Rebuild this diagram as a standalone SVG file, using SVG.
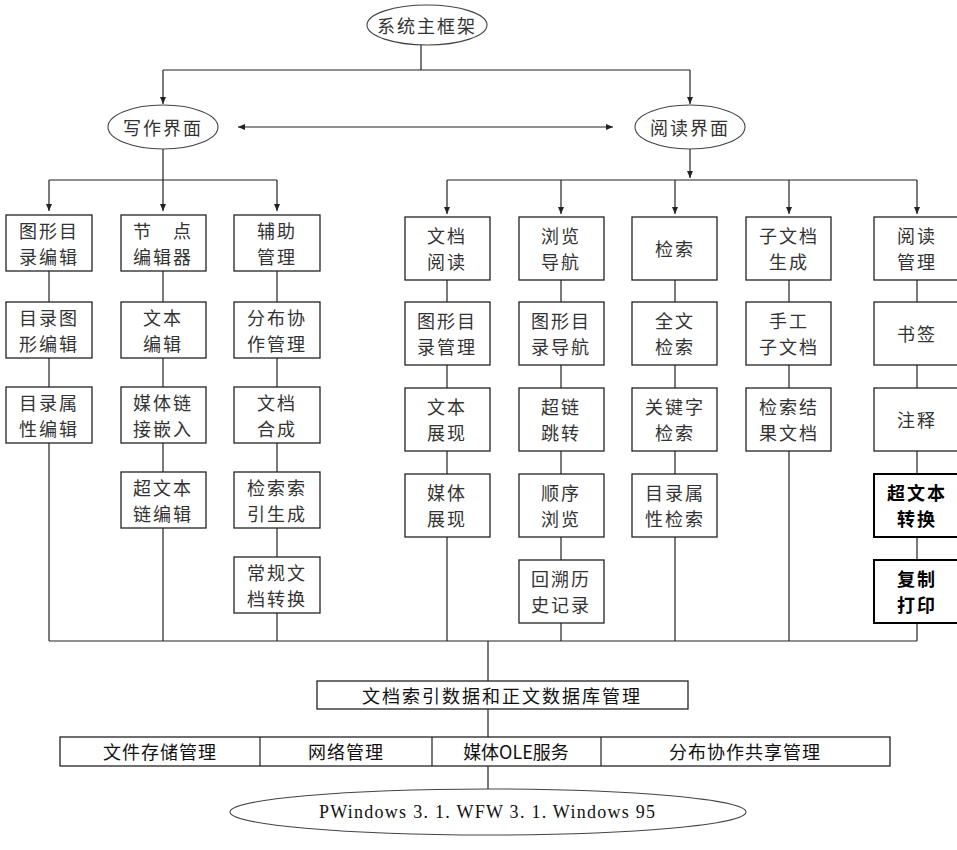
<svg xmlns="http://www.w3.org/2000/svg" width="957" height="850" viewBox="0 0 957 850">
<style>
.bg{fill:#fff}
.box{fill:#fff;stroke:#222;stroke-width:1.3}
.boxb{fill:#fff;stroke:#000;stroke-width:2}
.ell{fill:#fff;stroke:#444;stroke-width:1.1}
.ln{fill:none;stroke:#222;stroke-width:1.2}
.t{font-family:"Noto Sans CJK SC","Noto Sans CJK JP",sans-serif;font-size:18px;fill:#333;text-anchor:middle;dominant-baseline:central;letter-spacing:2px}
.tb{font-family:"Noto Sans CJK SC","Noto Sans CJK JP",sans-serif;font-size:18px;fill:#000;font-weight:bold;text-anchor:middle;dominant-baseline:central;letter-spacing:2px}
.tbar{font-family:"Noto Sans CJK SC","Noto Sans CJK JP",sans-serif;font-size:18px;fill:#111;text-anchor:middle;dominant-baseline:central}
.ts{font-family:"Liberation Serif",serif;font-size:18px;fill:#111;text-anchor:middle;dominant-baseline:central}
</style>
<defs>
<marker id="ah" markerWidth="8" markerHeight="10" refX="7" refY="4" orient="auto" markerUnits="userSpaceOnUse">
<path d="M0,1 L7,4 L0,7 z" fill="#222"/>
</marker>
<marker id="ahs" markerWidth="8" markerHeight="10" refX="1" refY="4" orient="auto" markerUnits="userSpaceOnUse">
<path d="M8,1 L1,4 L8,7 z" fill="#222"/>
</marker>
</defs>
<rect class="bg" x="0" y="0" width="957" height="850"/>

<g id="connectors">
<path class="ln" d="M421,45 V70 M163,70 H690"/>
<path class="ln" d="M163,70 V104" marker-end="url(#ah)"/>
<path class="ln" d="M690,70 V104" marker-end="url(#ah)"/>
<path class="ln" d="M238,127 H613" marker-start="url(#ahs)" marker-end="url(#ah)"/>
<path class="ln" d="M163,149 V180 M49,180 H277"/>
<path class="ln" d="M49,180 V211" marker-end="url(#ah)"/>
<path class="ln" d="M163,180 V211" marker-end="url(#ah)"/>
<path class="ln" d="M277,180 V211" marker-end="url(#ah)"/>
<path class="ln" d="M690,149 V178" marker-end="url(#ah)"/>
<path class="ln" d="M447,180 H917"/>
<path class="ln" d="M447,180 V214" marker-end="url(#ah)"/>
<path class="ln" d="M561,180 V214" marker-end="url(#ah)"/>
<path class="ln" d="M675,180 V214" marker-end="url(#ah)"/>
<path class="ln" d="M789,180 V214" marker-end="url(#ah)"/>
<path class="ln" d="M917,180 V214" marker-end="url(#ah)"/>
<path class="ln" d="M49,271 V302 M49,358 V387 M49,443 V641"/>
<path class="ln" d="M163,271 V302 M163,358 V387 M163,443 V472 M163,528 V641"/>
<path class="ln" d="M277,271 V302 M277,358 V387 M277,443 V472 M277,528 V557 M277,613 V641"/>
<path class="ln" d="M447,280 V302 M447,365 V388 M447,451 V474 M447,537 V641"/>
<path class="ln" d="M561,280 V302 M561,365 V388 M561,451 V474 M561,537 V560 M561,623 V641"/>
<path class="ln" d="M675,280 V302 M675,365 V388 M675,451 V474 M675,537 V641"/>
<path class="ln" d="M789,280 V302 M789,365 V388 M789,451 V641"/>
<path class="ln" d="M917,280 V302 M917,365 V388 M917,451 V474 M917,537 V560 M917,623 V641"/>
<path class="ln" d="M49,641 H917"/>
<path class="ln" d="M488,641 V681 M488,709 V737 M488,766 V790"/>
</g>

<g id="n-main"><ellipse class="ell" cx="427" cy="25" rx="60" ry="20"/><text class="t" x="427" y="25" letter-spacing="1">系统主框架</text></g>
<g id="n-write"><ellipse class="ell" cx="163" cy="127" rx="55" ry="22"/><text class="t" x="163" y="127" letter-spacing="1">写作界面</text></g>
<g id="n-read"><ellipse class="ell" cx="690" cy="127" rx="55" ry="22"/><text class="t" x="690" y="127" letter-spacing="1">阅读界面</text></g>

<g id="l1a"><rect class="box" x="6" y="215" width="86" height="56"/><text class="t" x="49" y="230">图形目</text><text class="t" x="49" y="256">录编辑</text></g>
<g id="l1b"><rect class="box" x="6" y="302" width="86" height="56"/><text class="t" x="49" y="317">目录图</text><text class="t" x="49" y="343">形编辑</text></g>
<g id="l1c"><rect class="box" x="6" y="387" width="86" height="56"/><text class="t" x="49" y="402">目录属</text><text class="t" x="49" y="428">性编辑</text></g>
<g id="l2a"><rect class="box" x="121" y="215" width="85" height="56"/><text class="t" x="163" y="230">节　点</text><text class="t" x="163" y="256">编辑器</text></g>
<g id="l2b"><rect class="box" x="121" y="302" width="85" height="56"/><text class="t" x="163" y="317">文本</text><text class="t" x="163" y="343">编辑</text></g>
<g id="l2c"><rect class="box" x="121" y="387" width="85" height="56"/><text class="t" x="163" y="402">媒体链</text><text class="t" x="163" y="428">接嵌入</text></g>
<g id="l2d"><rect class="box" x="121" y="472" width="85" height="56"/><text class="t" x="163" y="487">超文本</text><text class="t" x="163" y="513">链编辑</text></g>
<g id="l3a"><rect class="box" x="234" y="215" width="86" height="56"/><text class="t" x="277" y="230">辅助</text><text class="t" x="277" y="256">管理</text></g>
<g id="l3b"><rect class="box" x="234" y="302" width="86" height="56"/><text class="t" x="277" y="317">分布协</text><text class="t" x="277" y="343">作管理</text></g>
<g id="l3c"><rect class="box" x="234" y="387" width="86" height="56"/><text class="t" x="277" y="402">文档</text><text class="t" x="277" y="428">合成</text></g>
<g id="l3d"><rect class="box" x="234" y="472" width="86" height="56"/><text class="t" x="277" y="487">检索索</text><text class="t" x="277" y="513">引生成</text></g>
<g id="l3e"><rect class="box" x="234" y="557" width="86" height="56"/><text class="t" x="277" y="572">常规文</text><text class="t" x="277" y="598">档转换</text></g>

<g id="r1a"><rect class="box" x="405" y="217" width="85" height="63"/><text class="t" x="447" y="235">文档</text><text class="t" x="447" y="261">阅读</text></g>
<g id="r1b"><rect class="box" x="405" y="302" width="85" height="63"/><text class="t" x="447" y="320">图形目</text><text class="t" x="447" y="346">录管理</text></g>
<g id="r1c"><rect class="box" x="405" y="388" width="85" height="63"/><text class="t" x="447" y="406">文本</text><text class="t" x="447" y="432">展现</text></g>
<g id="r1d"><rect class="box" x="405" y="474" width="85" height="63"/><text class="t" x="447" y="492">媒体</text><text class="t" x="447" y="518">展现</text></g>
<g id="r2a"><rect class="box" x="519" y="217" width="85" height="63"/><text class="t" x="561" y="235">浏览</text><text class="t" x="561" y="261">导航</text></g>
<g id="r2b"><rect class="box" x="519" y="302" width="85" height="63"/><text class="t" x="561" y="320">图形目</text><text class="t" x="561" y="346">录导航</text></g>
<g id="r2c"><rect class="box" x="519" y="388" width="85" height="63"/><text class="t" x="561" y="406">超链</text><text class="t" x="561" y="432">跳转</text></g>
<g id="r2d"><rect class="box" x="519" y="474" width="85" height="63"/><text class="t" x="561" y="492">顺序</text><text class="t" x="561" y="518">浏览</text></g>
<g id="r2e"><rect class="box" x="519" y="560" width="85" height="63"/><text class="t" x="561" y="578">回溯历</text><text class="t" x="561" y="604">史记录</text></g>
<g id="r3a"><rect class="box" x="632" y="217" width="85" height="63"/><text class="t" x="675" y="248">检索</text></g>
<g id="r3b"><rect class="box" x="632" y="302" width="85" height="63"/><text class="t" x="675" y="320">全文</text><text class="t" x="675" y="346">检索</text></g>
<g id="r3c"><rect class="box" x="632" y="388" width="85" height="63"/><text class="t" x="675" y="406">关键字</text><text class="t" x="675" y="432">检索</text></g>
<g id="r3d"><rect class="box" x="632" y="474" width="85" height="63"/><text class="t" x="675" y="492">目录属</text><text class="t" x="675" y="518">性检索</text></g>
<g id="r4a"><rect class="box" x="746" y="217" width="85" height="63"/><text class="t" x="789" y="235">子文档</text><text class="t" x="789" y="261">生成</text></g>
<g id="r4b"><rect class="box" x="746" y="302" width="85" height="63"/><text class="t" x="789" y="320">手工</text><text class="t" x="789" y="346">子文档</text></g>
<g id="r4c"><rect class="box" x="746" y="388" width="85" height="63"/><text class="t" x="789" y="406">检索结</text><text class="t" x="789" y="432">果文档</text></g>
<g id="r5a"><rect class="box" x="874" y="217" width="86" height="63"/><text class="t" x="917" y="235">阅读</text><text class="t" x="917" y="261">管理</text></g>
<g id="r5b"><rect class="box" x="874" y="302" width="86" height="63"/><text class="t" x="917" y="333">书签</text></g>
<g id="r5c"><rect class="box" x="874" y="388" width="86" height="63"/><text class="t" x="917" y="419">注释</text></g>
<g id="r5d"><rect class="boxb" x="874" y="474" width="86" height="63"/><text class="tb" x="917" y="492">超文本</text><text class="tb" x="917" y="518">转换</text></g>
<g id="r5e"><rect class="boxb" x="874" y="560" width="86" height="63"/><text class="tb" x="917" y="578">复制</text><text class="tb" x="917" y="604">打印</text></g>

<g id="n-db"><rect class="box" x="317" y="681" width="371" height="28"/><text class="tbar" x="502" y="695" letter-spacing="2">文档索引数据和正文数据库管理</text></g>
<g id="n-services">
<rect class="box" x="60" y="737" width="830" height="29"/>
<path class="ln" d="M260,737 V766 M432,737 V766 M601,737 V766"/>
<text class="tbar" x="160" y="751" letter-spacing="1">文件存储管理</text>
<text class="tbar" x="346" y="751" letter-spacing="1">网络管理</text>
<text class="tbar" x="516" y="751">媒体OLE服务</text>
<text class="tbar" x="745" y="751" letter-spacing="1">分布协作共享管理</text>
</g>
<g id="n-os"><ellipse class="ell" cx="488" cy="812" rx="258" ry="23"/><text class="ts" x="487" y="812" textLength="336" lengthAdjust="spacing">PWindows 3. 1. WFW 3. 1. Windows 95</text></g>
</svg>
